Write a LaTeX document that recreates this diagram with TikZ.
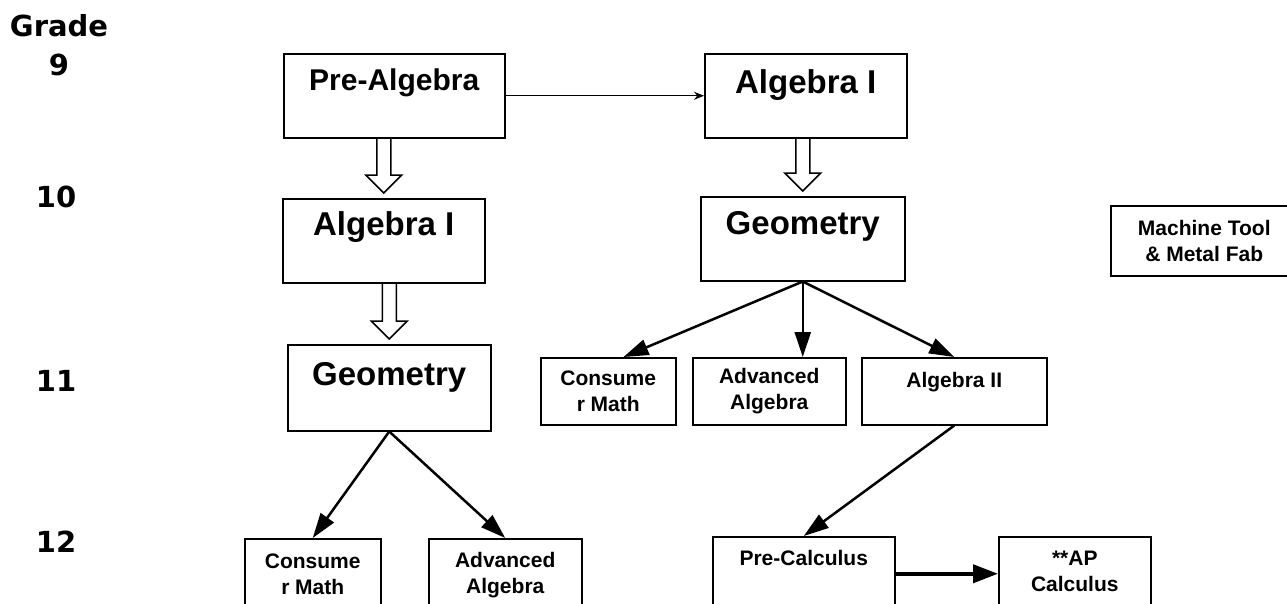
\documentclass[tikz,border=0pt]{standalone}
\usepackage{fontspec}
\setmainfont{Liberation Sans}
\newfontfamily\gradefont{DejaVu Sans}
\usetikzlibrary{arrows.meta,calc}
\tikzset{>=stealth}
\tikzset{
  course/.style={draw, line width=1.5pt, inner sep=0pt, anchor=north west,
    text height=37pt, text depth=47pt, font=\bfseries\fontsize{33}{40}\selectfont},
  smallcourse/.style={draw, line width=1.5pt, inner sep=0pt, anchor=north west,
    align=center, font=\bfseries\fontsize{21}{26}\selectfont},
  grade/.style={anchor=base, inner sep=0pt, font=\gradefont\bfseries\fontsize{29}{39}\selectfont},
  flow/.style={line width=2.5pt, -{Triangle[length=25pt,width=16pt]}},
  hollow/.style={line width=1.5pt, line join=miter},
}
\newcommand{\hollowdown}[2]{%
  \draw[hollow] let \p1=(#1), \p2=(#2) in
    (\x2-7pt,\y1) -- (\x2-7pt,\y2+23pt) -- (\x2-18pt,\y2+23pt) -- (\x2,\y2+5pt)
    -- (\x2+18pt,\y2+23pt) -- (\x2+7pt,\y2+23pt) -- (\x2+7pt,\y1);}

\begin{document}
\begin{tikzpicture}[x=1pt, y=-1pt]
    \clip (0,0) rectangle (1287,603);

    \node (gradehead) at (59,14) [grade, anchor=north, align=center] {Grade\\9};
    \node (grade10) at (56,207) [grade] {10};
    \node (grade11) at (56,391) [grade] {11};
    \node (grade12) at (56,552) [grade] {12};

    \node (prealg) at (283,53) [course, minimum width=221pt, font=\bfseries\fontsize{30}{36}\selectfont] {Pre-Algebra};
    \node (algL) at (282,198) [course, minimum width=202pt] {Algebra I};
    \node (geoL) at (287,344) [course, minimum width=203pt, text height=41pt, text depth=45pt] {Geometry};
    \node (algR) at (704,53) [course, minimum width=202pt, text height=40pt, text depth=44pt] {Algebra I};
    \node (geoR) at (700,196) [course, minimum width=204pt, text height=38pt, text depth=46pt] {Geometry};
    \node (machine) at (1110,205) [smallcourse, minimum width=187pt, minimum height=70pt] {Machine Tool\\\& Metal Fab};

    \node (consR) at (540,357) [smallcourse, minimum width=135pt, minimum height=67pt] {Consume\\r Math};
    \node (advR) at (692,357) [smallcourse, minimum width=153pt, minimum height=67pt] {Advanced\\Algebra};
    \node (alg2) at (861,357) [smallcourse, minimum width=185pt, text height=30pt, text depth=37pt] {Algebra II};

    \node (consL) at (244,538) [smallcourse, minimum width=136pt, minimum height=72pt] {Consume\\r Math};
    \node (advL) at (428,538) [smallcourse, minimum width=153pt, minimum height=72pt] {Advanced\\Algebra};
    \node (precalc) at (712,536) [smallcourse, minimum width=182pt, text height=29pt, text depth=45pt] {Pre-Calculus};
    \node (apcalc) at (998,536) [smallcourse, minimum width=152pt, minimum height=70pt] {**AP\\Calculus};

    \draw [line width=1.2pt, -{Stealth[length=10pt,width=8pt]}] (prealg) -- (algR);
    \hollowdown{prealg.south}{algL.north}
    \hollowdown{algL.south}{geoL.north}
    \hollowdown{algR.south}{geoR.north}

    \draw [flow] (geoR.south) -- (consR.66);
    \draw [flow] (geoR.south) -- (geoR.south |- advR.north);
    \draw [flow] (geoR.south) -- (alg2.north);
    \draw [flow] (geoL.south) -- (consL.north);
    \draw [flow] (geoL.south) -- (advL.north);
    \draw [flow] (alg2.south) -- (precalc.north);
    \draw [line width=4pt, -{Triangle[length=25pt,width=18pt]}] (precalc.east) -- (precalc.east -| apcalc.west);
\end{tikzpicture}
\end{document}
